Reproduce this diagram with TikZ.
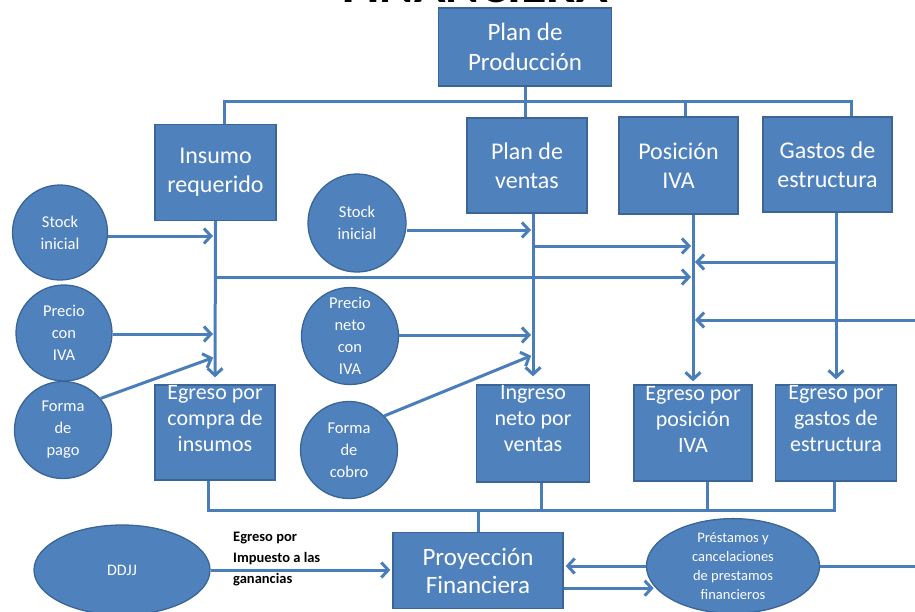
\documentclass[tikz,border=0pt]{standalone}
\usepackage{fontspec}
\setmainfont{Carlito}
\usetikzlibrary{arrows.meta,shapes.geometric}
\definecolor{fillb}{HTML}{4F81BD}
\definecolor{edgeb}{HTML}{3A6597}
\definecolor{lineb}{HTML}{4A7EBB}
\begin{document}
\begin{tikzpicture}[x=1pt,y=-1pt,
  box/.style={rectangle,fill=fillb,draw=edgeb,line width=1.3pt,inner sep=0pt,text=white,align=center,font=\fontsize{24}{29}\selectfont},
  boxtxt/.style={inner sep=0pt,text=white,align=center,font=\fontsize{22}{26}\selectfont},
  circ/.style={circle,fill=fillb,draw=edgeb,line width=1.3pt,inner sep=0pt,text=white,align=center,font=\fontsize{16.5}{22}\selectfont},
  oval/.style={ellipse,fill=fillb,draw=edgeb,line width=1.3pt,inner sep=0pt,text=white,align=center},
  conn/.style={draw=lineb,line width=3pt},
  arr/.style={conn,-{Straight Barb[length=7pt,width=15pt]},shorten >=2pt},
]
\useasboundingbox (0,0) rectangle (915,611);

% title (cut by the page top)
\node[anchor=base west,inner sep=0pt,font=\bfseries\fontsize{52}{52}\selectfont] (title) at (342,2.5) {FINANCIERA};

% boxes
\node[box,minimum width=173pt,minimum height=78pt,font=\fontsize{25}{30}\selectfont] (prod) at (525,47) {Plan de\\Producción};
\node[box,minimum width=121pt,minimum height=96pt] (ins) at (215.5,172.5) {Insumo\\requerido};
\node[box,minimum width=120pt,minimum height=95pt] (ven) at (527,165.5) {Plan de\\ventas};
\node[box,minimum width=119pt,minimum height=97pt] (iva) at (678.5,165.5) {Posición\\IVA};
\node[box,minimum width=129pt,minimum height=95pt] (gas) at (827.5,164.5) {Gastos de\\estructura};

\node[box,minimum width=120pt,minimum height=95pt] (egc) at (215,432.5) {};
\node[boxtxt] (egct) at ([yshift=13.5pt]egc.center) {Egreso por\\compra de\\insumos};
\node[box,minimum width=113pt,minimum height=97pt] (ing) at (533,433.5) {};
\node[boxtxt] (ingt) at ([yshift=14.5pt]ing.center) {Ingreso\\neto por\\ventas};
\node[box,minimum width=118pt,minimum height=96pt] (egi) at (693,433) {};
\node[boxtxt] (egit) at ([yshift=14pt]egi.center) {Egreso por\\posición\\IVA};
\node[box,minimum width=121pt,minimum height=96pt] (egg) at (836,433) {};
\node[boxtxt] (eggt) at ([yshift=14pt]egg.center) {Egreso por\\gastos de\\estructura};

\node[box,minimum width=170pt,minimum height=76pt,font=\fontsize{25}{28}\selectfont] (proy) at (478,570.5) {Proyección\\Financiera};

% circles
\node[circ,minimum size=95pt] (s1) at (60,232.5) {Stock\\inicial};
\node[circ,minimum size=96pt] (p1) at (64,333) {Precio\\con\\IVA};
\node[circ,minimum size=97pt] (f1) at (63,430) {Forma\\de\\pago};
\node[circ,minimum size=98pt] (s2) at (357,223) {Stock\\inicial};
\node[circ,minimum size=97pt] (p2) at (350,336) {Precio\\neto\\con\\IVA};
\node[circ,minimum size=97pt] (f2) at (349,450) {Forma\\de\\cobro};

% ellipses
\node[oval,minimum width=176pt,minimum height=90pt,font=\fontsize{16}{20}\selectfont] (ddjj) at (122,570) {DDJJ};
\node[oval,minimum width=173pt,minimum height=84pt,font=\fontsize{14.5}{19}\selectfont] (pre) at (733,566) {Préstamos y\\cancelaciones\\de prestamos\\financieros};

\node[anchor=north west,align=left,inner sep=0pt,font=\bfseries\fontsize{14.5}{21}\selectfont] (lab) at (233,531.5) {Egreso por\\Impuesto a las\\ganancias};

% junction coordinates
\coordinate (jL) at (224,101);
\coordinate (jM) at (525,101);
\coordinate (jI) at (685,101);
\coordinate (jR) at (851,101);

\coordinate (a1) at (215,236);
\coordinate (b1) at (215,277);
\coordinate (a2) at (215,334);
\coordinate (a3) at (215,357);

\coordinate (c1) at (533,230);
\coordinate (c2) at (533,246);
\coordinate (c3) at (533,335);
\coordinate (c4) at (533,355);

\coordinate (d1) at (693,246);
\coordinate (d2) at (693,262);
\coordinate (d3) at (693,277);
\coordinate (d4) at (693,320);
\coordinate (e1) at (836,262);
\coordinate (rE1) at (915,320);

\coordinate (g1) at (208,510);
\coordinate (g0) at (478,510);
\coordinate (g2) at (541,510);
\coordinate (g3) at (707,510);
\coordinate (g4) at (834,510);
\coordinate (rE2) at (915,566);

% top tree
\draw[conn] (prod.south) -- (jM);
\draw[conn] (jL |- ins.north) -- (jL) -- (jR) -- (jR |- gas.north);
\draw[conn] (jM) -- (jM |- ven.north);
\draw[conn] (jI) -- (jI |- iva.north);

% insumo column
\draw[arr,shorten >=7pt] (ins.south) -- (egc.north);
\draw[arr] (s1.east |- a1) -- (a1);
\draw[arr] (p1.east |- a2) -- (a2);
\draw[arr] (f1.40) -- (a3);
\draw[arr] (b1) -- (d3);

% ventas column
\draw[arr,shorten >=8pt] (ven.south -| ing.north) -- (ing.north);
\draw[arr] (s2.east |- c1) -- (c1);
\draw[arr] (p2.east |- c3) -- (c3);
\draw[arr] (f2.44) -- (c4);
\draw[arr] (c2) -- (d1);

% IVA and gastos columns
\draw[arr,shorten >=3pt] (iva.south -| egi.north) -- (egi.north);
\draw[arr,shorten >=5pt] (gas.south -| egg.north) -- (egg.north);
\draw[arr] (e1) -- (d2);
\draw[arr] (rE1) -- (d4);

% bottom bus
\draw[conn] (g1 |- egc.south) -- (g1) -- (g4) -- (g4 |- egg.south);
\draw[conn] (g2 |- ing.south) -- (g2);
\draw[conn] (g3 |- egi.south) -- (g3);
\draw[conn] (g0) -- (g0 |- proy.north);

% bottom row
\draw[arr] (ddjj.east) -- (ddjj.east -| proy.west);
\draw[arr] (pre.west) -- (pre.west -| proy.east);
\draw[arr] (proy.east |- pre.196) -- (pre.196);
\draw[conn] (pre.east) -- (rE2);
\end{tikzpicture}
\end{document}
